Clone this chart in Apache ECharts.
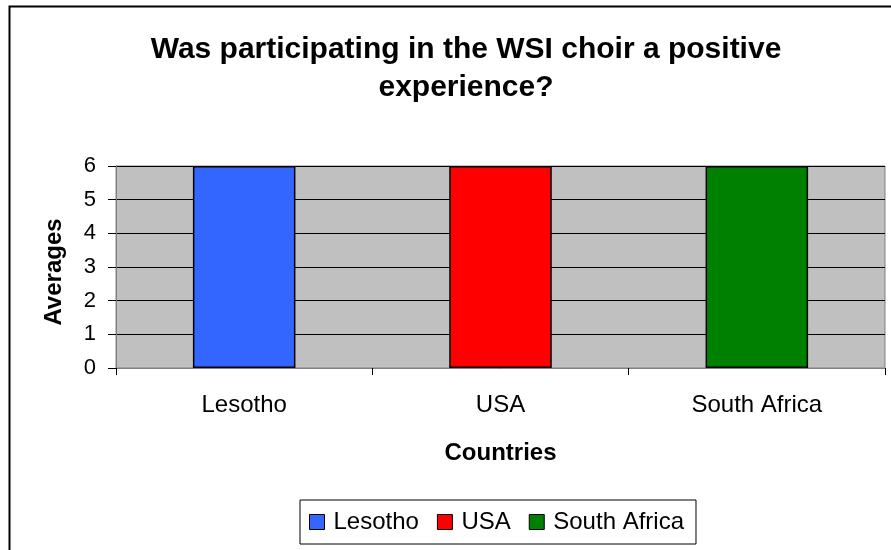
<!DOCTYPE html>
<html>
<head>
<meta charset="utf-8">
<style>
html,body{margin:0;padding:0;background:#fff;}
#chart{width:891px;height:550px;}
</style>
<script src="https://cdn.jsdelivr.net/npm/echarts@6/dist/echarts.min.js"></script>
</head>
<body>
<div id="chart"></div>
<script>
var categories = ['Lesotho', 'USA', 'South Africa'];
var seriesNames = ['Lesotho', 'USA', 'South Africa'];
var lesothoValues = [6, null, null];
var usaValues = [null, 6, null];
var southAfricaValues = [null, null, 6];
var yTicks = [0, 1, 2, 3, 4, 5, 6];
var colors = ['#3366FF', '#FF0000', '#008000'];

var FONT = '"Liberation Sans", Arial, sans-serif';
var chart = echarts.init(document.getElementById('chart'));
var valuesList = [lesothoValues, usaValues, southAfricaValues];
var series = seriesNames.map(function (name, i) {
  return {
    name: name,
    type: 'bar',
    stack: 'all',
    barWidth: '40%',
    data: valuesList[i],
    itemStyle: { color: colors[i], borderColor: '#000', borderWidth: 1.5 }
  };
});

chart.setOption({
  animation: false,
  backgroundColor: '#fff',
  graphic: [{
    type: 'rect',
    shape: { x: 9.5, y: 6.5, width: 900, height: 600 },
    style: { fill: 'none', stroke: '#000', lineWidth: 2 },
    silent: true
  }, {
    type: 'text',
    x: 54, y: 272,
    rotation: Math.PI / 2,
    style: {
      text: 'Averages', fill: '#000',
      font: 'bold 24px "Liberation Sans", Arial, sans-serif',
      textAlign: 'center', textVerticalAlign: 'middle'
    },
    silent: true
  }],
  title: {
    text: 'Was participating in the WSI choir a positive\nexperience?',
    left: 461,
    textAlign: 'center',
    top: 26,
    textStyle: { fontFamily: FONT, fontSize: 30, fontWeight: 'bold', color: '#000', lineHeight: 38 }
  },
  legend: {
    data: seriesNames,
    left: 300,
    top: 500,
    orient: 'horizontal',
    itemWidth: 15,
    itemHeight: 15,
    itemGap: 18,
    icon: 'rect',
    borderColor: '#000',
    borderWidth: 1,
    padding: [10, 12, 10, 9],
    textStyle: { fontFamily: FONT, fontSize: 24, color: '#000', padding: [0, 0, 0, 4] },
    itemStyle: { borderColor: '#000', borderWidth: 1 }
  },
  grid: {
    left: 116, right: 6, top: 166, bottom: 182,
    show: true, backgroundColor: '#C0C0C0', borderColor: '#808080', borderWidth: 1
  },
  xAxis: {
    type: 'category',
    data: categories,
    axisLine: { lineStyle: { color: '#808080', width: 1 } },
    axisTick: { show: true, length: 7, interval: 0, lineStyle: { color: '#000' } },
    axisLabel: { fontFamily: FONT, fontSize: 24, color: '#000', margin: 25 },
    name: 'Countries',
    nameLocation: 'middle',
    nameGap: 73,
    nameTextStyle: { fontFamily: FONT, fontSize: 24, fontWeight: 'bold', color: '#000' },
    splitLine: { show: false }
  },
  yAxis: {
    type: 'value',
    min: 0, max: 6, interval: 1,
    axisLine: { show: true, lineStyle: { color: '#808080', width: 1 } },
    axisTick: { show: true, length: 8, lineStyle: { color: '#000' } },
    axisLabel: { fontFamily: FONT, fontSize: 22, color: '#000', margin: 20,
      formatter: function (v) { return yTicks.indexOf(v) >= 0 ? String(v) : ''; } },
    splitLine: { show: true, lineStyle: { color: '#000', width: 1 } }
  },
  series: series
});
</script>
</body>
</html>
